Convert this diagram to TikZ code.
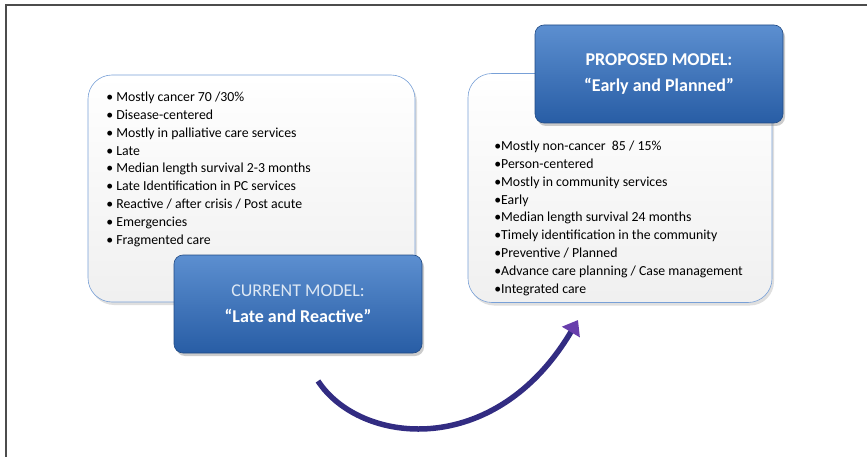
\documentclass[tikz,border=0pt]{standalone}
\usepackage{fontspec}
\setmainfont{Carlito}
\usetikzlibrary{arrows.meta,shadows}

\definecolor{panelline}{RGB}{120,160,215}
\definecolor{bannertop}{RGB}{92,143,208}
\definecolor{bannerbot}{RGB}{40,93,165}
\definecolor{bannertext}{RGB}{222,232,244}
\definecolor{arrowcol}{RGB}{50,44,130}
\definecolor{tipcol}{RGB}{104,62,172}

\begin{document}
\begin{tikzpicture}[x=1pt,y=-1pt,semithick]

            \tikzstyle{panel}=[draw=panelline,rounded corners=24pt,top color=white,bottom color=black!6,inner sep=0pt,
                               drop shadow={opacity=0.25,shadow xshift=2pt,shadow yshift=-3pt}]
            \tikzstyle{banner}=[draw=bannerbot!80!black,rounded corners=9pt,top color=bannertop,bottom color=bannerbot,
                                minimum width=248pt,minimum height=98pt,align=center,text=white,
                                font=\fontsize{18}{26}\selectfont,
                                drop shadow={opacity=0.4,shadow xshift=2pt,shadow yshift=-3pt}]
            \tikzstyle{items}=[align=left,inner sep=0pt,anchor=base west,font=\fontsize{13.8}{17.9}\selectfont]

            \useasboundingbox (0,0) rectangle (867,457);
            \draw[line width=1.3pt,black!70] (6,457) -- (6,5) -- (867,5);

            \node[panel,minimum width=327pt,minimum height=227pt] (curbox)  at (251.5,188.5) {};
            \node[panel,minimum width=304pt,minimum height=229pt] (propbox) at (620,188)     {};

            % base anchor sits on the last line
            \node[items] (curlist) at (106,244.5)
                {• Mostly cancer 70 /30\%\\
                 • Disease-centered\\
                 • Mostly in palliative care services\\
                 • Late\\
                 • Median length survival 2-3 months\\
                 • Late Identification in PC services\\
                 • Reactive / after crisis / Post acute\\
                 • Emergencies\\
                 • Fragmented care};

            \node[items] (proplist) at (494,293.5)
                {•Mostly non-cancer~ 85 / 15\%\\
                 •Person-centered\\
                 •Mostly in community services\\
                 •Early\\
                 •Median length survival 24 months\\
                 •Timely identification in the community\\
                 •Preventive / Planned\\
                 •Advance care planning / Case management\\
                 •Integrated care};

            \node[banner] (cur)  at (298,304) {\textcolor{bannertext}{CURRENT MODEL:}\\ \textbf{“Late and Reactive”}};
            \node[banner] (prop) at (659,74)  {\textbf{PROPOSED MODEL:}\\ \textbf{“Early and Planned”}};

            \coordinate (from) at (318,381);
            \coordinate (to)   at (578,320);
            \draw[-{Triangle[width=20pt,length=14pt,color=tipcol]},line width=5.5pt,arrowcol]
                (from) .. controls (360,445) and (495,460) .. (to);
        \end{tikzpicture}
\end{document}
